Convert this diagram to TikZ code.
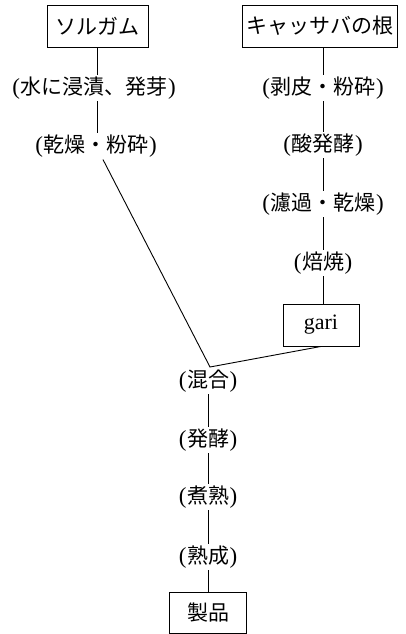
\documentclass[tikz,border=0pt]{standalone}
\usepackage{fontspec}
\setmainfont{Liberation Serif}
\newfontfamily\cjk{Noto Sans CJK JP}
\newcommand\lbl[1]{{\fontsize{23}{24}\selectfont(}\kern0.5pt{\cjk #1}\kern0.5pt{\fontsize{23}{24}\selectfont)}}
\begin{document}
\begin{tikzpicture}[x=1pt,y=-1pt,
  every node/.style={font=\fontsize{21}{24}\selectfont},
  boxnode/.style={draw,line width=0.9pt,minimum height=42pt,inner sep=0pt},
  stepnode/.style={inner sep=2pt},
  conn/.style={line width=0.9pt}]
\useasboundingbox (0,0) rectangle (406,634);
% left column
\node[boxnode,minimum width=101pt] (s) at (97.5,26) {\cjk ソルガム};
\node[stepnode] (s1) at (94,88) {\lbl{水に浸漬、発芽}};
\node[stepnode] (s2) at (96,146) {\lbl{乾燥・粉砕}};
% right column
\node[boxnode,minimum width=155pt] (c) at (320,26) {\cjk キャッサバの根};
\node[stepnode] (c1) at (323,88) {\lbl{剥皮・粉砕}};
\node[stepnode] (c2) at (323,145) {\lbl{酸発酵}};
\node[stepnode] (c3) at (323,204) {\lbl{濾過・乾燥}};
\node[stepnode] (c4) at (323,263) {\lbl{焙焼}};
\node[boxnode,minimum width=76pt,font=\fontsize{22}{24}\selectfont] (g) at (321,325) {gari};
% junction
\coordinate (v) at (210,367);
% main column
\node[stepnode] (m1) at (208,381) {\lbl{混合}};
\node[stepnode] (m2) at (208,440) {\lbl{発酵}};
\node[stepnode] (m3) at (208,497) {\lbl{煮熟}};
\node[stepnode] (m4) at (208,557) {\lbl{熟成}};
\node[boxnode,minimum width=77pt,minimum height=41pt] (p) at (208,612.5) {\cjk 製品};
% connectors
\draw[conn] (s.south) -- (s1.north -| s.south);
\draw[conn] (s1.south -| s.south) -- (s2.north -| s.south);
\draw[conn] (s2) -- (v) -- (g.south);
\draw[conn] (c.south -| c1) -- (c1);
\draw[conn] (c1) -- (c2);
\draw[conn] (c2) -- (c3);
\draw[conn] (c3) -- (c4);
\draw[conn] (c4) -- (g.north -| c4);
\draw[conn] (m1) -- (m2);
\draw[conn] (m2) -- (m3);
\draw[conn] (m3) -- (m4);
\draw[conn] (m4) -- (p);
\end{tikzpicture}
\end{document}
